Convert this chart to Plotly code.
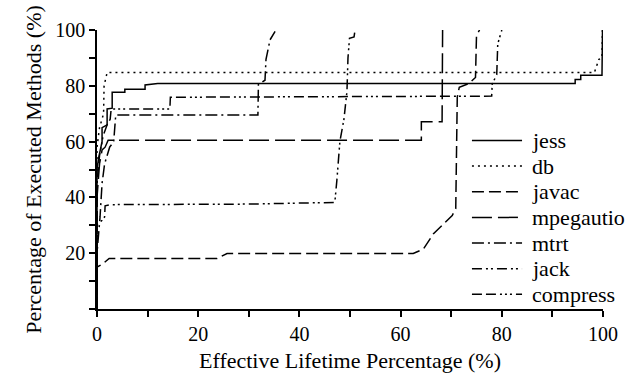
import plotly.graph_objects as go

# Cumulative share of executed methods vs. effective lifetime, per benchmark
names = ["jess", "db", "javac", "mpegautio", "mtrt", "jack", "compress"]

jess_x = [0, 0, 0.3, 1.0, 1.0, 2.0, 2.0, 3.0, 3.0, 5.5, 5.5, 9.5, 9.5, 12.0, 94.5, 94.5, 95.6, 95.6, 99.8, 99.9]
jess_y = [0, 50, 54, 60, 65, 66, 71.7, 72, 77.7, 77.7, 78.8, 78.8, 80.3, 80.8, 80.8, 82.3, 82.3, 83.8, 83.8, 100]

db_x = [0, 0, 0.5, 1.3, 1.4, 2.0, 98.3, 99.2, 99.8, 99.9]
db_y = [0, 58, 65, 70, 80, 84.8, 84.8, 89.5, 90, 100]

javac_x = [0, 0, 1.0, 1.6, 2.4, 23.7, 25.7, 62.5, 64.5, 66.5, 68.4, 70.2, 70.9, 71.2, 71.6, 73.5, 74.8, 75.0, 75.6]
javac_y = [0, 15, 16, 17, 18.1, 18.1, 19.9, 19.9, 21.5, 27.0, 30.5, 33.5, 36.0, 76.0, 79.5, 80.8, 83.0, 98.0, 100]

mpeg_x = [0, 0, 0.5, 1.0, 1.6, 2.2, 64.1, 64.1, 68.2, 68.3]
mpeg_y = [0, 40, 52, 57, 58, 60.5, 60.5, 67.1, 67.1, 100]

mtrt_x = [0, 0, 0.6, 1.0, 1.5, 2.5, 3.3, 3.5, 3.7, 31.8, 31.9, 33.2, 33.4, 34.2, 35.2]
mtrt_y = [0, 20, 33, 45, 52, 58, 60, 66, 69.5, 69.5, 80.5, 82.0, 89.5, 96.5, 99.5]

jack_x = [0, 0, 1.0, 1.5, 1.6, 2.6, 30.0, 47.0, 47.4, 48.0, 48.8, 49.4, 49.6, 49.9, 50.8, 51.0]
jack_y = [0, 30, 31.8, 33, 37, 37.4, 37.6, 38.2, 46, 60, 68, 78, 90, 97, 97.5, 100]

compress_x = [0, 0, 0.5, 1.2, 2.0, 2.6, 2.8, 14.4, 14.5, 77.5, 78.0, 78.1, 79.0, 79.2, 80.0]
compress_y = [0, 45, 55, 62, 66, 68, 71.7, 71.7, 75.9, 76.1, 76.3, 80.6, 84.0, 95.0, 100]

xs = [jess_x, db_x, javac_x, mpeg_x, mtrt_x, jack_x, compress_x]
ys = [jess_y, db_y, javac_y, mpeg_y, mtrt_y, jack_y, compress_y]

dashes = [
    "solid",
    "2px,4px",
    "12px,5px",
    "20px,6px",
    "12px,4px,2px,4px",
    "10px,4px,2px,3px,2px,4px",
    "10px,4px,10px,4px,2px,3px,2px,3px,2px,4px",
]

x_ticks = [0, 20, 40, 60, 80, 100]
y_ticks = [20, 40, 60, 80, 100]

FONT = "Liberation Serif"

fig = go.Figure()
for name, x, y, d in zip(names, xs, ys, dashes):
    fig.add_trace(go.Scatter(
        x=x, y=y, mode="lines", name=name, showlegend=False,
        line=dict(color="black", width=1.5, dash=d),
    ))

# Hand-built legend: long line samples with labels
x0, x1, xt = 0.741, 0.840, 0.856
row_top, row_step = 0.604, 26 / 283
for i, (name, d) in enumerate(zip(names, dashes)):
    yy = row_top - i * row_step
    fig.add_shape(type="line", xref="paper", yref="paper",
                  x0=x0, x1=x1, y0=yy, y1=yy,
                  line=dict(color="black", width=1.5, dash=d))
    fig.add_annotation(xref="paper", yref="paper", x=xt, y=yy, text=name,
                       showarrow=False, xanchor="left", yanchor="middle",
                       font=dict(family=FONT, size=22, color="black"))

axis_common = dict(
    showgrid=False, zeroline=False, showline=True, linecolor="black", linewidth=1.5,
    ticks="outside", ticklen=6, tickwidth=1.5, tickcolor="black",
    tickfont=dict(family=FONT, size=20, color="black"),
    range=[0, 100],
    minor=dict(dtick=10, ticks="outside", ticklen=6, tickwidth=1.5, tickcolor="black"),
)

fig.update_layout(
    width=636, height=381,
    margin=dict(l=97, r=33, t=30, b=68),
    paper_bgcolor="white", plot_bgcolor="white",
    font=dict(family=FONT, color="black"),
    xaxis=dict(axis_common, tickvals=x_ticks,
               title=dict(text="Effective Lifetime Percentage (%)",
                          font=dict(family=FONT, size=22), standoff=9)),
    yaxis=dict(axis_common, tickvals=y_ticks,
               title=dict(text="Percentage of Executed Methods (%)",
                          font=dict(family=FONT, size=22), standoff=8)),
)

fig.write_html("out.html")
